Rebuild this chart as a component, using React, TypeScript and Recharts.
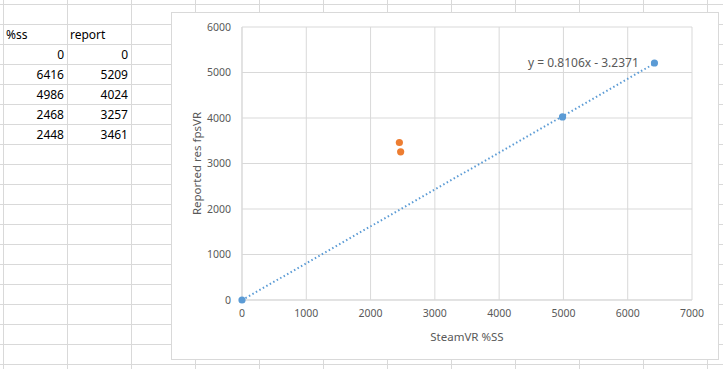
import React from "react";
import {
  ScatterChart,
  Scatter,
  XAxis,
  YAxis,
  CartesianGrid,
  ReferenceLine,
  Label,
} from "recharts";

// sheet columns
const ssColumn = [0, 6416, 4986, 2468, 2448];
const reportColumn = [0, 5209, 4024, 3257, 3461];

// chart series (first three rows blue, last two orange)
const blueSS = ssColumn.slice(0, 3);
const blueReport = reportColumn.slice(0, 3);
const orangeSS = ssColumn.slice(3);
const orangeReport = reportColumn.slice(3);

// trendline as shown on the chart
const trendSlope = 0.8106;
const trendIntercept = -3.2371;
const trendFrom = 0;
const trendTo = 6416;

const xTicks = [0, 1000, 2000, 3000, 4000, 5000, 6000, 7000];
const yTicks = [0, 1000, 2000, 3000, 4000, 5000, 6000];

const BLUE = "#5B9BD5";
const ORANGE = "#ED7D31";
const TEXT = "#595959";
const FONT = "'Noto Sans', 'Open Sans', sans-serif";

const blueData = blueSS.map((x, i) => ({ x, y: blueReport[i] }));
const orangeData = orangeSS.map((x, i) => ({ x, y: orangeReport[i] }));

const dot = (color: string) => (props: any) =>
  <circle cx={props.cx} cy={props.cy} r={3.6} fill={color} />;

const cellStyle: React.CSSProperties = {
  position: "absolute",
  width: 61,
  height: 20,
  lineHeight: "20px",
  fontFamily: FONT,
  fontSize: 12,
  color: "#000",
};

export default function App() {
  const tick = { fill: TEXT, fontSize: 10.5, fontFamily: FONT };
  return (
    <div
      style={{
        position: "absolute",
        left: 0,
        top: 0,
        width: 723,
        height: 369,
        overflow: "hidden",
        background: "#fff",
        backgroundImage:
          "linear-gradient(to right, #d9d9d9 1px, transparent 1px), linear-gradient(to bottom, #d9d9d9 1px, transparent 1px)",
        backgroundSize: "64px 20px",
        backgroundPosition: "3px 4px",
      }}
    >
      <div style={{ ...cellStyle, left: 6, top: 25 }}>%ss</div>
      <div style={{ ...cellStyle, left: 70, top: 25 }}>report</div>
      {ssColumn.map((v, i) => (
        <div key={"a" + i} style={{ ...cellStyle, left: 3, top: 45 + i * 20, textAlign: "right" }}>
          {v}
        </div>
      ))}
      {reportColumn.map((v, i) => (
        <div key={"b" + i} style={{ ...cellStyle, left: 67, top: 45 + i * 20, textAlign: "right" }}>
          {v}
        </div>
      ))}

      <div
        style={{
          position: "absolute",
          left: 171,
          top: 12,
          width: 548,
          height: 348,
          boxSizing: "border-box",
          border: "1px solid #d9d9d9",
          background: "#fff",
        }}
      >
        <ScatterChart
          width={546}
          height={346}
          margin={{ top: 14, right: 26, left: 0, bottom: 0 }}
        >
          <CartesianGrid stroke="#d9d9d9" strokeWidth={1} />
          <XAxis
            type="number"
            dataKey="x"
            domain={[0, 7000]}
            ticks={xTicks}
            height={59}
            tick={tick}
            tickLine={false}
            tickSize={0}
            tickMargin={10}
            axisLine={{ stroke: "#d9d9d9" }}
          >
            <Label
              value="SteamVR %SS"
              position="center"
              dy={7}
              style={{ fill: TEXT, fontSize: 11.5, fontFamily: FONT }}
            />
          </XAxis>
          <YAxis
            type="number"
            dataKey="y"
            domain={[0, 6000]}
            ticks={yTicks}
            width={70}
            tick={tick}
            tickLine={false}
            tickSize={0}
            tickMargin={11}
            axisLine={{ stroke: "#d9d9d9" }}
          >
            <Label
              value="Reported res fpsVR"
              angle={-90}
              position="center"
              dx={-10}
              style={{ fill: TEXT, fontSize: 11.5, fontFamily: FONT, textAnchor: "middle" }}
            />
          </YAxis>
          <ReferenceLine
            segment={[
              { x: trendFrom, y: trendSlope * trendFrom + trendIntercept },
              { x: trendTo, y: trendSlope * trendTo + trendIntercept },
            ]}
            stroke={BLUE}
            strokeWidth={2}
            strokeDasharray="1.5 2.5"
            ifOverflow="visible"
          />
          <Scatter data={blueData} fill={BLUE} shape={dot(BLUE)} isAnimationActive={false} />
          <Scatter data={orangeData} fill={ORANGE} shape={dot(ORANGE)} isAnimationActive={false} />
        </ScatterChart>
      </div>

      <div
        style={{
          position: "absolute",
          left: 528,
          top: 55,
          fontFamily: FONT,
          fontSize: 12,
          lineHeight: "16px",
          color: TEXT,
          whiteSpace: "nowrap",
        }}
      >
        y = 0.8106x - 3.2371
      </div>
    </div>
  );
}
